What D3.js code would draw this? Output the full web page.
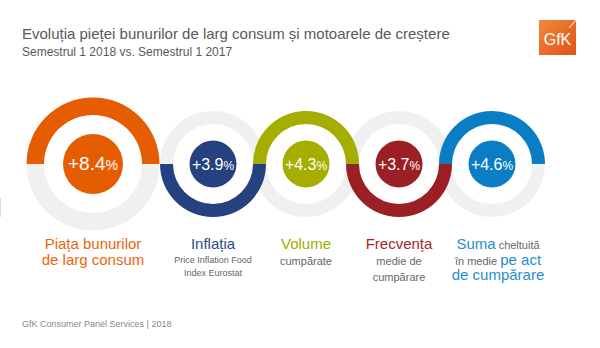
<!DOCTYPE html>
<html>
<head>
<meta charset="utf-8">
<script src="https://cdn.jsdelivr.net/npm/d3@7"></script>
<style>
  body { margin: 0; background: #fff; }
  .chart text { font-family: "Liberation Sans", Arial, sans-serif; }
</style>
</head>
<body>
<div class="chart"></div>
<script>
// growth drivers, H1 2018 vs H1 2017
const drivers = ['piata', 'inflatie', 'volum', 'frecventa', 'suma'];
const growth = [8.4, 3.9, 4.3, 3.7, 4.6];
const colors = ['#e65c00', '#25417f', '#a4ad00', '#9b1f24', '#0a7dc4'];
const textColors = ['#e8660f', '#2d4b8a', '#a2ab00', '#a3262c', '#1f8ed4'];
const halves = ['top', 'bottom', 'top', 'bottom', 'top'];

// caption lines: [text, kind] segments
const captions = [
    [[['Piața bunurilor', 'main']], [['de larg consum', 'main']]],
    [[['Inflația', 'main']], [['Price Inflation Food', 'note']], [['Index Eurostat', 'note']]],
    [[['Volume', 'main']], [['cumpărate', 'sub']]],
    [[['Frecvența', 'main']], [['medie de', 'sub']], [['cumpărare', 'sub']]],
    [[['Suma', 'main'], [' cheltuită', 'sub']], [['în medie ', 'sub'], ['pe act', 'main']], [['de cumpărare', 'main']]]
];

const title = 'Evoluția pieței bunurilor de larg consum și motoarele de creștere';
const subtitle = 'Semestrul 1 2018 vs. Semestrul 1 2017';
const footer = 'GfK Consumer Panel Services | 2018';

const width = 600, height = 348;
const cy = 164;

const svg = d3.select('.chart')
    .append('svg')
    .attr('width', width)
    .attr('height', height);

// ring centres: the headline ring is larger and stands a bit apart
const xScale = d3.scaleOrdinal()
    .domain(drivers)
    .range([93, 213, 306, 399, 492]);

const big = {outer: 66.5, inner: 49, dot: 30, value: 19, pct: 14};
const small = {outer: 53, inner: 40, dot: 23.5, value: 16, pct: 12};
const size = (d, i) => i === 0 ? big : small;

const data = drivers.map((d, i) => ({
    key: d, value: growth[i], color: colors[i], text: textColors[i],
    half: halves[i], caption: captions[i], s: size(d, i)
}));

const arc = d3.arc();
const halfAngles = {
    top: [-Math.PI / 2, Math.PI / 2],
    bottom: [Math.PI / 2, Math.PI * 1.5]
};

// grey halves first, coloured halves on top where rings overlap
svg.append('g')
    .selectAll('path')
    .data(data)
    .join('path')
    .attr('transform', d => `translate(${xScale(d.key)},${cy})`)
    .attr('fill', '#f0f0f0')
    .attr('d', d => {
        const other = d.half === 'top' ? 'bottom' : 'top';
        return arc({innerRadius: d.s.inner, outerRadius: d.s.outer,
            startAngle: halfAngles[other][0], endAngle: halfAngles[other][1]});
    });

svg.append('g')
    .selectAll('path')
    .data(data)
    .join('path')
    .attr('transform', d => `translate(${xScale(d.key)},${cy})`)
    .attr('fill', d => d.color)
    .attr('d', d => arc({innerRadius: d.s.inner, outerRadius: d.s.outer,
        startAngle: halfAngles[d.half][0], endAngle: halfAngles[d.half][1]}));

const dots = svg.append('g')
    .selectAll('g')
    .data(data)
    .join('g')
    .attr('transform', d => `translate(${xScale(d.key)},${cy})`);

dots.append('circle')
    .attr('r', d => d.s.dot)
    .attr('fill', d => d.color);

const val = dots.append('text')
    .attr('text-anchor', 'middle')
    .attr('y', 6)
    .attr('fill', '#fff');
val.append('tspan')
    .attr('font-size', d => d.s.value)
    .text(d => '+' + d3.format('.1f')(d.value));
val.append('tspan')
    .attr('font-size', d => d.s.pct)
    .text('%');

// captions under each ring
const fontSize = {main: 15, sub: 11, note: 9};
const lineStep = {main: 15.5, sub: 16, note: 13.5};

const caps = svg.append('g')
    .selectAll('text')
    .data(data)
    .join('text')
    .attr('text-anchor', 'middle');

caps.each(function(d) {
    const t = d3.select(this);
    let y = 249;
    d.caption.forEach((line, li) => {
        if (li > 0) {
            const kinds = line.map(s => s[1]);
            y += kinds.includes('main') ? lineStep.main : lineStep[kinds[0]];
        }
        line.forEach((seg, si) => {
            const sp = t.append('tspan')
                .attr('font-size', fontSize[seg[1]])
                .attr('fill', seg[1] === 'main' ? d.text : '#666')
                .text(seg[0]);
            if (si === 0) sp.attr('x', xScale(d.key) + (d.key === 'suma' ? 6 : 0)).attr('y', y);
        });
    });
});

// header
svg.append('text')
    .attr('x', 22)
    .attr('y', 39)
    .attr('font-size', 15)
    .attr('fill', '#595959')
    .text(title);

svg.append('text')
    .attr('x', 22)
    .attr('y', 56)
    .attr('font-size', 12)
    .attr('fill', '#595959')
    .text(subtitle);

// logo
const grad = svg.append('defs')
    .append('linearGradient')
    .attr('id', 'logo-grad')
    .attr('x1', 0).attr('y1', 0)
    .attr('x2', 1).attr('y2', 1);
grad.append('stop').attr('offset', 0).attr('stop-color', '#f2893a');
grad.append('stop').attr('offset', 1).attr('stop-color', '#e2511a');

const logo = svg.append('g')
    .attr('transform', 'translate(539,20)');
logo.append('rect')
    .attr('width', 37)
    .attr('height', 35)
    .attr('fill', 'url(#logo-grad)');
logo.append('line')
    .attr('x1', 37).attr('y1', 0)
    .attr('x2', 30).attr('y2', 8)
    .attr('stroke', '#fff')
    .attr('stroke-width', 1);
logo.append('text')
    .attr('x', 18.5)
    .attr('y', 25)
    .attr('text-anchor', 'middle')
    .attr('font-size', 16)
    .attr('fill', '#fff')
    .style('font-family', '"Liberation Sans Narrow", "Liberation Sans", sans-serif')
    .text('GfK');

// footer
svg.append('text')
    .attr('x', 22)
    .attr('y', 327)
    .attr('font-size', 9)
    .attr('fill', '#888')
    .text(footer);

svg.append('line')
    .attr('x1', 0.5).attr('y1', 198)
    .attr('x2', 0.5).attr('y2', 217)
    .attr('stroke', '#ddd');
</script>
</body>
</html>
